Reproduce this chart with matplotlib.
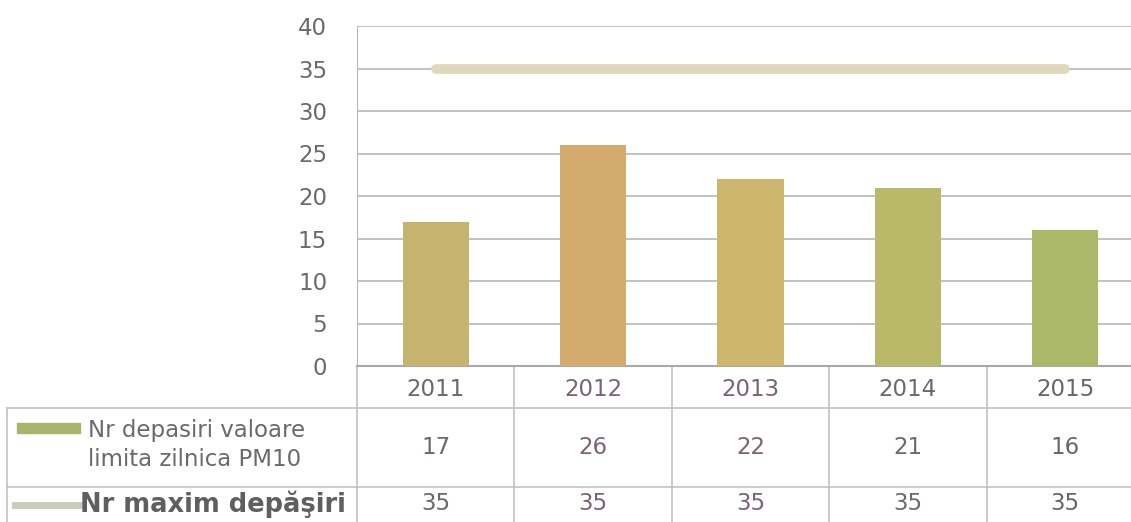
import matplotlib.pyplot as plt
from matplotlib.transforms import blended_transform_factory
from matplotlib.patches import Rectangle
from matplotlib.lines import Line2D

years = ["2011", "2012", "2013", "2014", "2015"]
depasiri = [17, 26, 22, 21, 16]
maxim = [35, 35, 35, 35, 35]
bar_colors = ["#C6B46E", "#D3AB6D", "#CDB56E", "#BAB869", "#AAB867"]
label_colors = ["#6E6668", "#7A6470", "#7A6470", "#6A6A6A", "#666666"]

serie_bare = ["Nr depasiri valoare", "limita zilnica PM10"]
serie_linie = "Nr maxim depăşiri"

W, H = 1131, 522
plt.rcParams['font.family'] = ['DejaVu Sans']
FS = 16.5

fig = plt.figure(figsize=(W / 100, H / 100), dpi=100)


def fy(py):
    # pixel row -> figure fraction
    return 1 - py / H


left, right, top, bottom = 357, 1144, 26, 366
ax = fig.add_axes([left / W, fy(bottom), (right - left) / W, (bottom - top) / H])

ax.bar(range(len(years)), depasiri, width=0.42, color=bar_colors, zorder=3)
ax.plot(range(len(years)), maxim, color="#E0D8B9", lw=7, solid_capstyle="round", zorder=4)

ax.set_xlim(-0.5, len(years) - 0.5)
ax.set_ylim(0, 40)
ax.set_yticks(range(0, 41, 5))
ax.set_xticks([])
ax.grid(axis="y", color="#B8B8B8", lw=1.2, zorder=0)
ax.tick_params(axis="y", length=0, pad=21.5, labelsize=FS, labelcolor="#6A6A6A")
for side in ["top", "right"]:
    ax.spines[side].set_visible(False)
ax.spines["left"].set_color("#B8B8B8")
ax.spines["bottom"].set_color("#A8A8A8")
ax.spines["bottom"].set_linewidth(1.5)

# data table under the chart
tr = blended_transform_factory(ax.transData, fig.transFigure)
grid_c = "#C2C2C2"
for i in range(len(years) + 1):
    ax.add_line(Line2D([i - 0.5, i - 0.5], [fy(bottom), 0], transform=tr,
                       color=grid_c, lw=1.2, clip_on=False))
for py in [408, 487]:
    fig.add_artist(Line2D([7 / W, 1], [fy(py), fy(py)], color=grid_c, lw=1.2))
fig.add_artist(Line2D([7 / W, 7 / W], [fy(408), 0], color=grid_c, lw=1.2))

for i, yr in enumerate(years):
    ax.text(i, fy(389), yr, transform=tr, ha="center", va="center",
            fontsize=FS, color=label_colors[i], clip_on=False)
    ax.text(i, fy(447), str(depasiri[i]), transform=tr, ha="center", va="center",
            fontsize=FS, color=label_colors[i], clip_on=False)
    ax.text(i, fy(504), str(maxim[i]), transform=tr, ha="center", va="center",
            fontsize=FS, color=label_colors[i], clip_on=False)

fig.add_artist(Rectangle((17 / W, fy(433)), 63 / W, 10 / H, color="#A8B46B"))
fig.text(88 / W, fy(430), serie_bare[0], ha="left", va="center", fontsize=FS, color="#6A6A6A")
fig.text(88 / W, fy(459), serie_bare[1], ha="left", va="center", fontsize=FS, color="#6A6A6A")

fig.add_artist(Line2D([15 / W, 82 / W], [fy(505), fy(505)], color="#CBCCBC", lw=5))
fig.text(80 / W, fy(504), serie_linie, ha="left", va="center", fontsize=18.5,
         fontweight="bold", color="#5F5F5F")

fig.savefig("out.png", dpi=100, facecolor="white")
